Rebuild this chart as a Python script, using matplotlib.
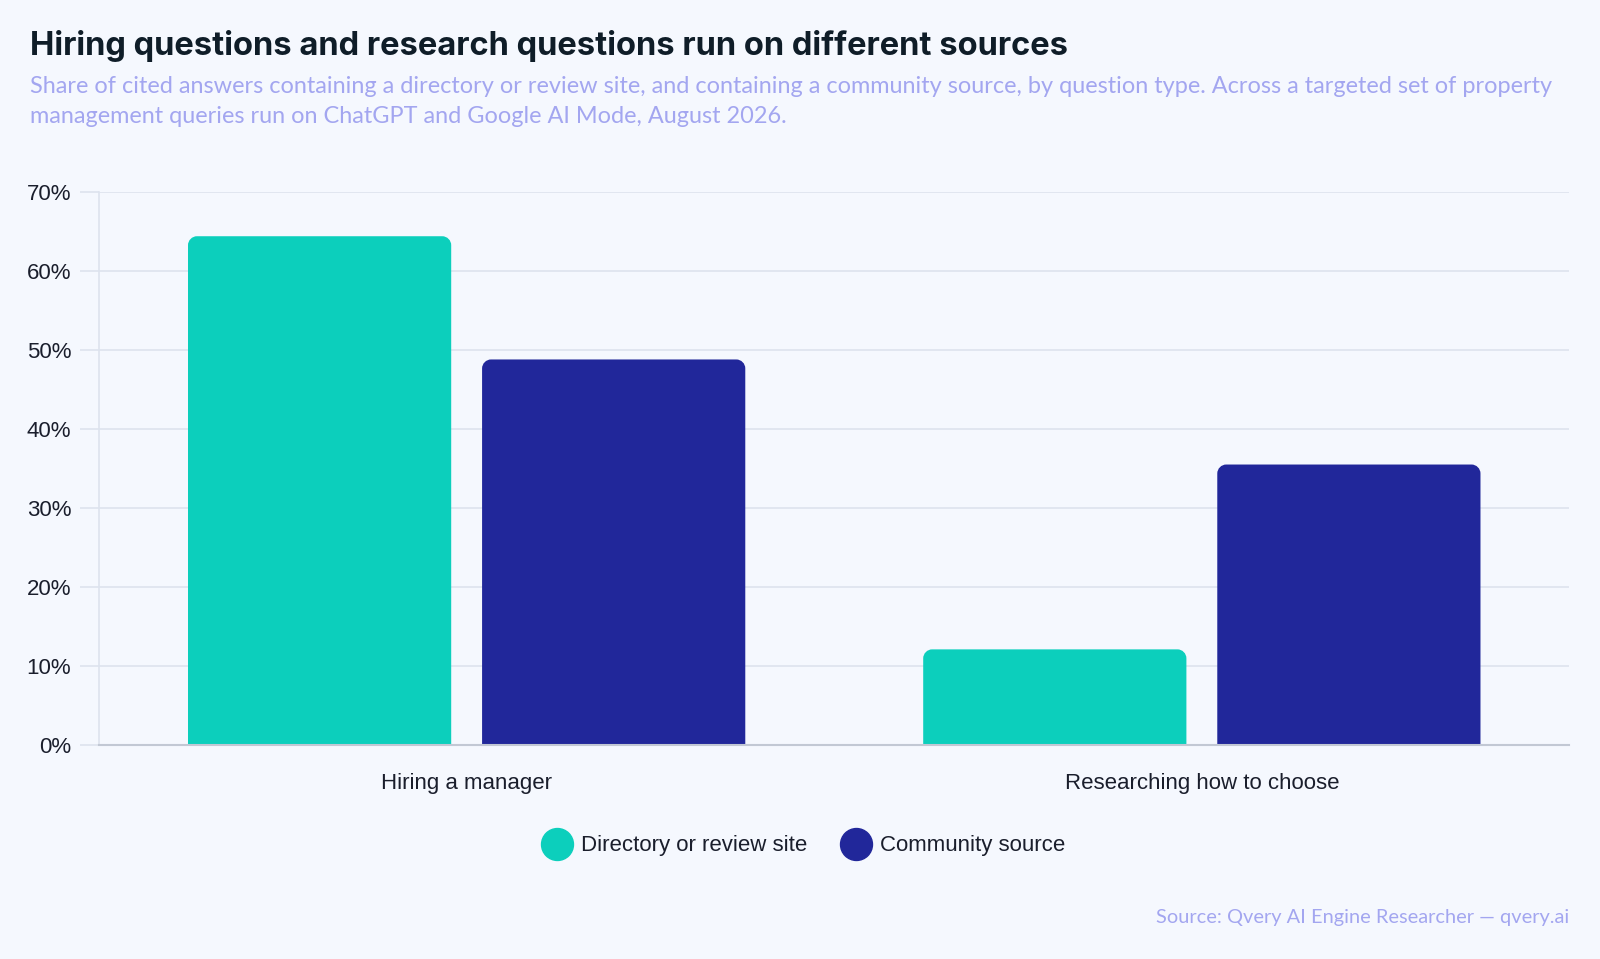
import matplotlib.pyplot as plt
from matplotlib.path import Path
from matplotlib.patches import PathPatch
from matplotlib.lines import Line2D

# data
categories = ["Hiring a manager", "Researching how to choose"]
series_names = ["Directory or review site", "Community source"]
directory_vals = [64.4, 12.1]
community_vals = [48.8, 35.5]
y_ticks = [0, 10, 20, 30, 40, 50, 60, 70]

colors = ["#0CCFBC", "#21279A"]
bg = "#F5F8FE"

fig = plt.figure(figsize=(16, 9.59), dpi=100, facecolor=bg)
ax = fig.add_axes([0.0619, 0.2232, 0.919, 0.5766], facecolor=bg)

ax.set_xlim(-0.5, 1.5)
ax.set_ylim(0, 70)

bar_w = 0.358
offsets = [-0.2, 0.2]


def rounded_top_bar(ax, x, w, h, color, r_px=9):
    # convert pixel radius into data units on each axis
    bbox = ax.get_window_extent()
    x0, x1 = ax.get_xlim()
    y0, y1 = ax.get_ylim()
    rx = r_px * (x1 - x0) / bbox.width
    ry = r_px * (y1 - y0) / bbox.height
    ry = min(ry, h)
    left, right = x - w / 2, x + w / 2
    k = 0.5523
    verts = [
        (left, 0), (left, h - ry),
        (left, h - ry + k * ry), (left + rx - k * rx, h), (left + rx, h),
        (right - rx, h),
        (right - rx + k * rx, h), (right, h - ry + k * ry), (right, h - ry),
        (right, 0), (left, 0),
    ]
    codes = [Path.MOVETO, Path.LINETO,
             Path.CURVE4, Path.CURVE4, Path.CURVE4,
             Path.LINETO,
             Path.CURVE4, Path.CURVE4, Path.CURVE4,
             Path.LINETO, Path.CLOSEPOLY]
    ax.add_patch(PathPatch(Path(verts, codes), facecolor=color, edgecolor="none", zorder=3))


for i, vals in enumerate([directory_vals, community_vals]):
    for j, v in enumerate(vals):
        rounded_top_bar(ax, j + offsets[i], bar_w, v, colors[i])

# grid and axes
ax.set_yticks(y_ticks)
ax.set_yticklabels([f"{t}%" for t in y_ticks], fontsize=16, color="#1A1E2C",
                   fontfamily="Liberation Sans")
ax.set_xticks(range(len(categories)))
ax.set_xticklabels(categories, fontsize=16, color="#1A1E2C", fontfamily="Liberation Sans")
ax.tick_params(axis="x", length=0, pad=20)
ax.tick_params(axis="y", length=14, width=1.2, color="#DDE3EE", pad=6)
ax.grid(axis="y", color="#DDE3EE", linewidth=1.2, zorder=0)
ax.set_axisbelow(True)
for s in ["top", "right"]:
    ax.spines[s].set_visible(False)
ax.spines["left"].set_color("#DDE3EE")
ax.spines["left"].set_linewidth(1.2)
ax.spines["bottom"].set_color("#C2C8D4")
ax.spines["bottom"].set_linewidth(1.5)
ax.spines["bottom"].set_zorder(4)

# titles
fig.text(0.019, 0.952, "Hiring questions and research questions run on different sources",
         fontsize=23.5, fontweight="bold", color="#0F1D28", fontfamily="Inter", va="center")
fig.text(0.019, 0.894,
         "Share of cited answers containing a directory or review site, and containing a community source, "
         "by question type. Across a targeted set of property\n"
         "management queries run on ChatGPT and Google AI Mode, August 2026.",
         fontsize=16.9, color="#A3A6F0", fontfamily="Lato", va="center", linespacing=1.5)
fig.text(0.981, 0.043, "Source: Qvery AI Engine Researcher \u2014 qvery.ai",
         fontsize=14.4, color="#A3A6F0", fontfamily="Lato", ha="right", va="center")

# legend
handles = [Line2D([0], [0], marker="o", linestyle="none", markersize=23,
                  markerfacecolor=c, markeredgecolor=c) for c in colors]
fig.legend(handles, series_names, loc="center", bbox_to_anchor=(0.5, 0.118), ncol=2,
           frameon=False, handletextpad=0.1, columnspacing=1.15,
           prop={"family": "Liberation Sans", "size": 16}, labelcolor="#1A1E2C")

fig.savefig("out.png", dpi=100, facecolor=bg)
